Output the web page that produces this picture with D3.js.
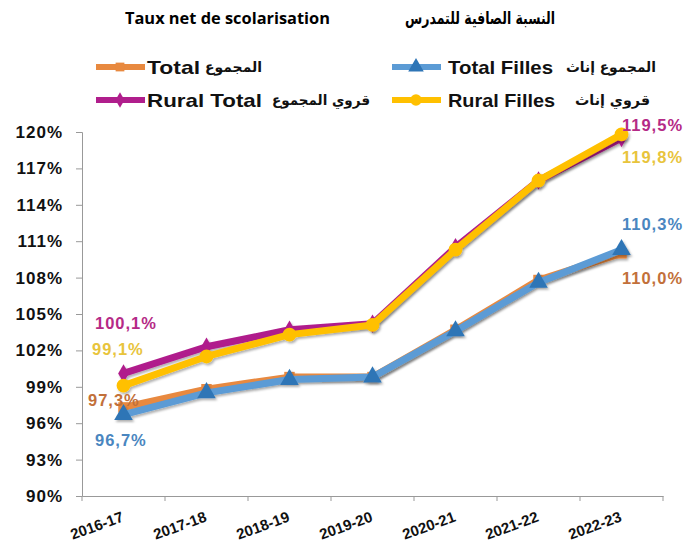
<!DOCTYPE html>
<html>
<head>
<meta charset="utf-8">
<script src="https://cdn.jsdelivr.net/npm/d3@7"></script>
<style>
  body { margin: 0; background: #fff; }
  svg { display: block; }
  text { font-family: "Liberation Sans", Arial, sans-serif; font-weight: bold; }
</style>
</head>
<body>
<svg id="chart" width="688" height="549"></svg>
<script>
// Taux net de scolarisation
var years = ['2016-17', '2017-18', '2018-19', '2019-20', '2020-21', '2021-22', '2022-23'];
var total = [97.3, 98.8, 99.8, 99.8, 103.7, 107.8, 110.0];
var totalFilles = [96.7, 98.5, 99.6, 99.8, 103.6, 107.6, 110.3];
var ruralTotal = [100.1, 102.3, 103.7, 104.2, 110.5, 116.0, 119.5];
var ruralFilles = [99.1, 101.5, 103.3, 104.1, 110.3, 116.0, 119.8];
var yTicks = [90, 93, 96, 99, 102, 105, 108, 111, 114, 117, 120];

var svg = d3.select('#chart');

var x = d3.scaleBand().domain(years).range([82, 663]);
var y = d3.scaleLinear().domain([90, 120]).range([496, 132]);

var defs = svg.append('defs');
var shadow = defs.append('filter').attr('id', 'shadow')
	.attr('x', '-10%').attr('y', '-10%').attr('width', '130%').attr('height', '140%');
shadow.append('feDropShadow')
	.attr('dx', 1.5).attr('dy', 2).attr('stdDeviation', 1.2)
	.attr('flood-color', '#000').attr('flood-opacity', 0.3);

// titles
svg.append('text')
	.attr('x', 125).attr('y', 24)
	.attr('textLength', 205)
	.attr('lengthAdjust', 'spacingAndGlyphs')
	.style('font-family', '"Open Sans", "DejaVu Sans", sans-serif')
	.style('font-size', '15.5px')
	.text('Taux net de scolarisation');
svg.append('text')
	.attr('x', 555).attr('y', 24)
	.attr('text-anchor', 'end')
	.attr('textLength', 150)
	.attr('lengthAdjust', 'spacingAndGlyphs')
	.style('font-family', '"DejaVu Sans", sans-serif')
	.style('font-size', '17px')
	.text('النسبة الصافية للتمدرس');

// axes
var yAxis = svg.append('g')
	.attr('transform', 'translate(82,0)')
	.call(d3.axisLeft(y).tickValues(yTicks).tickSize(6).tickFormat(function (d) { return d + '%'; }));
yAxis.select('.domain').attr('stroke', '#999');
yAxis.selectAll('.tick line').attr('stroke', '#999');
yAxis.selectAll('.tick text')
	.attr('x', -19)
	.attr('fill', '#111')
	.style('letter-spacing', '1px')
	.style('font-size', '17px');

var xAxis = svg.append('g')
	.attr('transform', 'translate(0,496)')
	.call(d3.axisBottom(x).tickSize(0).tickFormat(''));
xAxis.select('.domain').attr('stroke', '#999');
var bounds = years.map(function (d) { return x(d); }).concat([x.range()[1]]);
xAxis.selectAll('.sep')
	.data(bounds)
	.enter()
	.append('line')
	.attr('x1', function (d) { return d; })
	.attr('x2', function (d) { return d; })
	.attr('y1', 0).attr('y2', 5)
	.attr('stroke', '#999');

svg.append('g').selectAll('text')
	.data(years)
	.enter()
	.append('text')
	.attr('transform', function (d) {
		return 'translate(' + (x(d) + x.bandwidth() / 2 + 1) + ',521) rotate(-20)';
	})
	.attr('text-anchor', 'end')
	.style('font-size', '15px')
	.attr('fill', '#111')
	.text(function (d) { return d; });

var line = d3.line()
	.x(function (d, i) { return x(years[i]) + x.bandwidth() / 2; })
	.y(function (d) { return y(d); });

var series = [
	{ name: 'total', values: total, color: '#E8893F', marker: d3.symbolSquare, size: 110 },
	{ name: 'totalFilles', values: totalFilles, color: '#5B9BD5', markColor: '#2E75B6', marker: d3.symbolTriangle, size: 150 },
	{ name: 'ruralTotal', values: ruralTotal, color: '#B01E8C', marker: d3.symbolDiamond, size: 100 },
	{ name: 'ruralFilles', values: ruralFilles, color: '#FFC000', marker: d3.symbolCircle, size: 150 }
];

series.map(function (s) {
	var g = svg.append('g').attr('filter', 'url(#shadow)');
	g.append('path')
		.datum(s.values)
		.attr('d', line)
		.attr('fill', 'none')
		.attr('stroke', s.color)
		.attr('stroke-width', 7)
		.attr('stroke-linejoin', 'round');
	g.selectAll('path.mark')
		.data(s.values)
		.enter()
		.append('path')
		.attr('class', 'mark')
		.attr('d', d3.symbol().type(s.marker).size(s.size))
		.attr('transform', function (d, i) {
			return 'translate(' + (x(years[i]) + x.bandwidth() / 2) + ',' + y(d) + ')';
		})
		.attr('fill', s.markColor || s.color);
});

// value labels
var labels = [
	{ text: '100,1%', x: 95, y: 329, color: '#B52A86' },
	{ text: '99,1%', x: 92, y: 355, color: '#E8C43C' },
	{ text: '97,3%', x: 88, y: 406, color: '#C2703A' },
	{ text: '96,7%', x: 95, y: 446, color: '#4A86C0' },
	{ text: '119,5%', x: 622, y: 131, color: '#B52A86' },
	{ text: '119,8%', x: 622, y: 163, color: '#E8C43C' },
	{ text: '110,3%', x: 622, y: 230, color: '#4A86C0' },
	{ text: '110,0%', x: 622, y: 284, color: '#C2703A' }
];
svg.append('g').selectAll('text')
	.data(labels)
	.enter()
	.append('text')
	.attr('x', function (d) { return d.x; })
	.attr('y', function (d) { return d.y; })
	.attr('fill', function (d) { return d.color; })
	.style('font-size', '16.5px')
	.style('letter-spacing', '1px')
	.text(function (d) { return d.text; });

// legend
var legend = [
	{ s: series[0], lx: 96, ly: 67, fr: 'Total', fx: 147, fw: 53, ar: 'المجموع', ax: 262, aw: 57 },
	{ s: series[1], lx: 392, ly: 67, fr: 'Total Filles', fx: 448, fw: 105, ar: 'المجموع إناث', ax: 656, aw: 90 },
	{ s: series[2], lx: 96, ly: 100, fr: 'Rural  Total', fx: 147, fw: 115, ar: 'قروي المجموع', ax: 370, aw: 98 },
	{ s: series[3], lx: 392, ly: 100, fr: 'Rural Filles', fx: 448, fw: 107, ar: 'قروي إناث', ax: 650, aw: 75 }
];
legend.map(function (l) {
	var g = svg.append('g');
	g.append('line')
		.attr('x1', l.lx).attr('x2', l.lx + 49)
		.attr('y1', l.ly).attr('y2', l.ly)
		.attr('stroke', l.s.color)
		.attr('stroke-width', 6);
	g.append('path')
		.attr('d', d3.symbol().type(l.s.marker).size(l.s.size * 0.7))
		.attr('transform', 'translate(' + (l.lx + 24) + ',' + l.ly + ')')
		.attr('fill', l.s.markColor || l.s.color);
	g.append('text')
		.attr('x', l.fx).attr('y', l.ly + 7)
		.attr('textLength', l.fw)
		.attr('lengthAdjust', 'spacingAndGlyphs')
		.style('font-size', '18.5px')
		.attr('fill', '#111')
		.text(l.fr);
	g.append('text')
		.attr('x', l.ax).attr('y', l.ly + 5)
		.attr('text-anchor', 'end')
		.attr('textLength', l.aw)
		.attr('lengthAdjust', 'spacingAndGlyphs')
		.style('font-family', '"DejaVu Sans", sans-serif')
		.style('font-size', '14px')
		.attr('fill', '#111')
		.text(l.ar);
});
</script>
</body>
</html>
